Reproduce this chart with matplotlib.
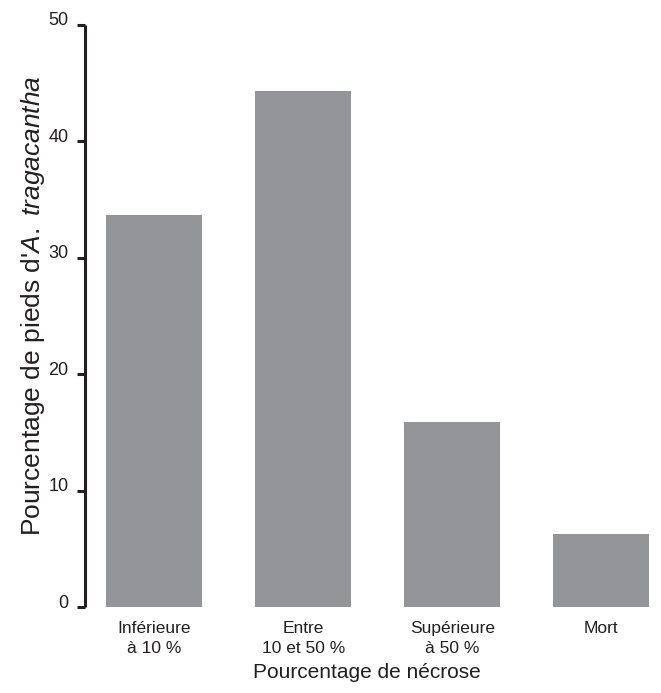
import matplotlib
matplotlib.use("Agg")
import matplotlib.pyplot as plt
import matplotlib.transforms as mtransforms

plt.rcParams['font.family'] = ['Liberation Sans', 'DejaVu Sans']
plt.rcParams['mathtext.fontset'] = 'custom'
plt.rcParams['mathtext.rm'] = 'Liberation Sans'
plt.rcParams['mathtext.it'] = 'Liberation Sans:italic'

categories = ["Inférieure\nà 10 %", "Entre\n10 et 50 %", "Supérieure\nà 50 %", "Mort"]
values = [33.7, 44.3, 15.9, 6.3]
yticks = [0, 10, 20, 30, 40, 50]

text_color = "#231f20"
bar_color = "#939598"

W, H = 661, 693
fig = plt.figure(figsize=(W / 100, H / 100), dpi=100)
ax = fig.add_axes([85 / W, (H - 607) / H, (655 - 85) / W, (607 - 24.7) / H])

x = list(range(len(categories)))
ax.bar(x, values, width=0.645, color=bar_color, linewidth=0)
ax.set_xlim(-0.463, 3.36)
ax.set_ylim(0, 50)

for s in ["top", "right", "bottom"]:
    ax.spines[s].set_visible(False)
ax.spines["left"].set_linewidth(2.2)
ax.spines["left"].set_color(text_color)
ax.spines["left"].set_capstyle("butt")

ax.set_yticks(yticks)
ax.set_yticklabels([str(t) for t in yticks])
ax.tick_params(axis="y", direction="out", length=6, width=2.2, color=text_color,
               labelcolor=text_color, labelsize=13, pad=6)
ax.set_xticks(x)
ax.set_xticklabels(categories)
ax.tick_params(axis="x", length=0, labelcolor=text_color, labelsize=12.5, pad=10)
for lab in ax.get_xticklabels():
    lab.set_linespacing(1.4)

offset = mtransforms.ScaledTranslation(0, 6 / 100, fig.dpi_scale_trans)
for lab in ax.get_yticklabels():
    lab.set_transform(lab.get_transform() + offset)

fig.text(367 / W, (H - 672) / H, "Pourcentage de nécrose", ha="center", va="center",
         fontsize=15, color=text_color)
fig.text(33 / W, (H - 306) / H, r"Pourcentage de pieds d'$\mathit{A.\ tragacantha}$",
         rotation=90, ha="center", va="center", fontsize=19, color=text_color)

fig.savefig("out.png", dpi=100)
